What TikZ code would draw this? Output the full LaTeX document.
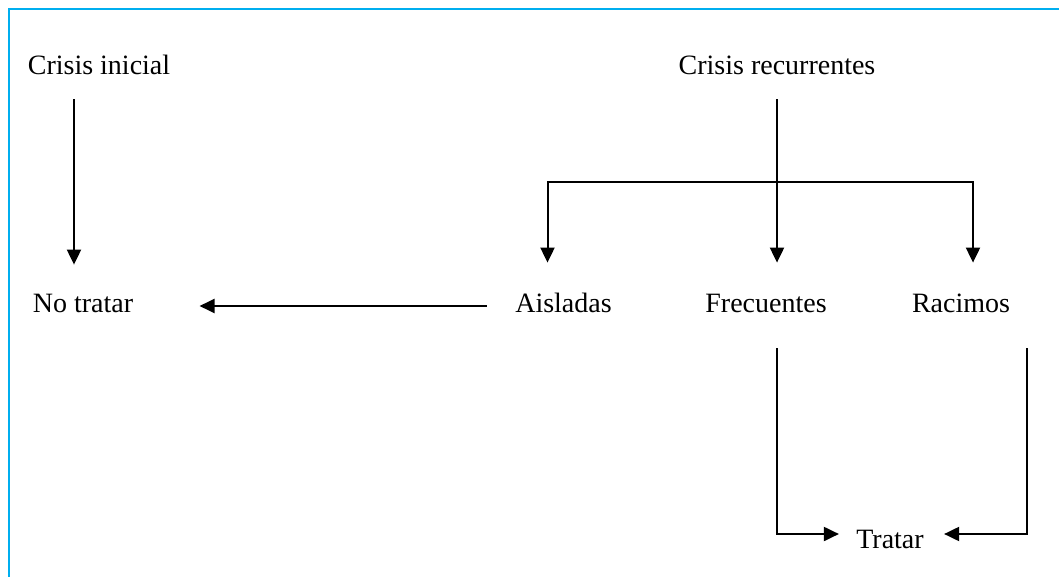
\documentclass[tikz,border=0pt]{standalone}
\usepackage{fontspec}
\setmainfont{Liberation Serif}
\usetikzlibrary{arrows.meta}
\definecolor{framecyan}{RGB}{0,174,239}

\begin{document}
\begin{tikzpicture}[x = 0.5pt, y = -0.5pt,
  txt/.style = {inner sep = 0pt, text height = 10pt, text depth = 0pt, anchor = base, font = \fontsize{14pt}{16pt}\selectfont},
  flow/.style = {draw = black, line width = 1pt, -{Triangle[length = 7.5pt, width = 7pt]}}]
\useasboundingbox (0,0) rectangle (1059,577);
\draw[line width = 1pt, draw = framecyan] (9,577) -- (9,9) -- (1059,9);
\node[txt] (ini) at (99,75) {Crisis inicial};
\node[txt] (rec) at (777,75) {Crisis recurrentes};
\node[txt] (notr) at (83,312) {No tratar};
\node[txt] (ais) at (563.5,312) {Aisladas};
\node[txt] (fre) at (766,312) {Frecuentes};
\node[txt] (rac) at (961,312) {Racimos};
\node[txt] (tra) at (890,548) {Tratar};
\path ([yshift = -53.5pt]rec.south) coordinate (split);
\draw[flow] ([xshift = -12.5pt, yshift = -12pt]ini.south) -- ([xshift = -4.5pt, yshift = 13.5pt]notr.north);
\draw[flow] ([yshift = -12pt]rec.south) -- ([yshift = 14.5pt]rec.south |- fre.north);
\draw[flow] (split) -| ([xshift = -8pt, yshift = 14.5pt]ais.north);
\draw[flow] (split) -| ([xshift = 6pt, yshift = 14.5pt]rac.north);
\draw[flow] ([xshift = -14pt, yshift = -2pt]ais.west) -- ([xshift = 33pt, yshift = -2pt]notr.east);
\draw[flow] ([xshift = 5.5pt, yshift = -18pt]fre.south) |- ([xshift = -8.5pt, yshift = 2pt]tra.west);
\draw[flow] ([xshift = 33pt, yshift = -18pt]rac.south) |- ([xshift = 10pt, yshift = 2pt]tra.east);
\end{tikzpicture}
\end{document}
